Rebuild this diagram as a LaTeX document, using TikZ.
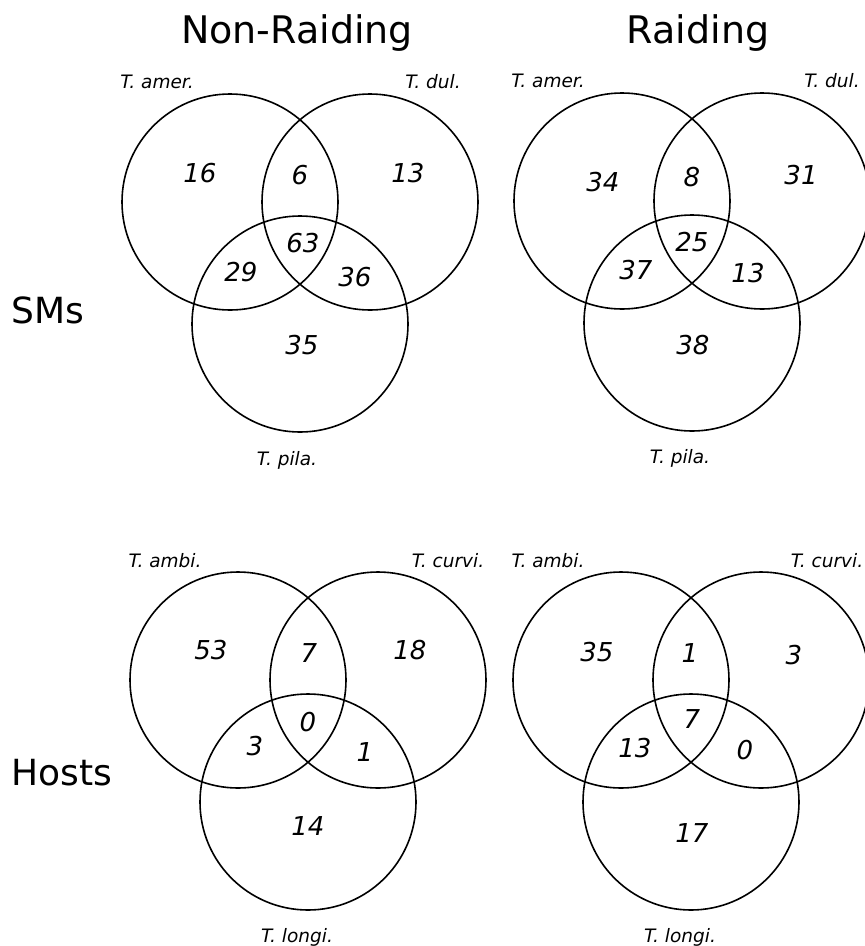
\documentclass[tikz,border=0pt]{standalone}
\usepackage{fontspec}
\setmainfont{DejaVu Sans}
\usepackage{tikz}

\tikzset{
  setline/.style={line width=1.6pt},
  cnt/.style={font=\fontsize{26}{28}\selectfont\itshape},
  spc/.style={anchor=base, font=\fontsize{18.5}{20}\selectfont\itshape},
  ttl/.style={anchor=base, font=\fontsize{38}{40}\selectfont},
  rowttl/.style={anchor=base, font=\fontsize{36}{38}\selectfont}
}

\begin{document}
\begin{tikzpicture}[x=1pt, y=-1pt]
		%%%%% START %%%%%
		\useasboundingbox (0, 0) rectangle (865, 946);
		
		\node[ttl] (ttlNon) at (297, 43) {Non-Raiding};
		\node[ttl] (ttlRaid) at (698, 43) {Raiding};
		\node[rowttl] (rowSMs) at (48, 323) {SMs};
		\node[rowttl] (rowHosts) at (62, 785) {Hosts};
		
		% SMs, non-raiding
		\draw[setline] (230, 202) circle (108pt);
		\draw[setline] (370, 202) circle (108pt);
		\draw[setline] (300, 324) circle (108pt);
		\node[spc] (smNamer) at (157, 88) {T. amer.};
		\node[spc] (smNdul) at (433, 88) {T. dul.};
		\node[spc] (smNpila) at (287, 465) {T. pila.};
		\node[cnt] (smN1) at (200, 173) {16};
		\node[cnt] (smN2) at (300, 175) {6};
		\node[cnt] (smN3) at (408, 173) {13};
		\node[cnt] (smN4) at (303, 243) {63};
		\node[cnt] (smN5) at (241, 272) {29};
		\node[cnt] (smN6) at (355, 277) {36};
		\node[cnt] (smN7) at (302, 345) {35};
		
		% SMs, raiding
		\draw[setline] (622, 201) circle (108pt);
		\draw[setline] (762, 201) circle (108pt);
		\draw[setline] (692, 323) circle (108pt);
		\node[spc] (smRamer) at (548, 87) {T. amer.};
		\node[spc] (smRdul) at (832, 87) {T. dul.};
		\node[spc] (smRpila) at (680, 463) {T. pila.};
		\node[cnt] (smR1) at (603, 182) {34};
		\node[cnt] (smR2) at (692, 177) {8};
		\node[cnt] (smR3) at (801, 175) {31};
		\node[cnt] (smR4) at (692, 242) {25};
		\node[cnt] (smR5) at (636, 270) {37};
		\node[cnt] (smR6) at (748, 273) {13};
		\node[cnt] (smR7) at (693, 345) {38};
		
		% Hosts, non-raiding
		\draw[setline] (238, 680) circle (108pt);
		\draw[setline] (378, 680) circle (108pt);
		\draw[setline] (308, 802) circle (108pt);
		\node[spc] (hoNambi) at (165, 567) {T. ambi.};
		\node[spc] (hoNcurvi) at (448, 567) {T. curvi.};
		\node[spc] (hoNlongi) at (297, 942) {T. longi.};
		\node[cnt] (hoN1) at (211, 650) {53};
		\node[cnt] (hoN2) at (309, 653) {7};
		\node[cnt] (hoN3) at (410, 650) {18};
		\node[cnt] (hoN4) at (308, 722) {0};
		\node[cnt] (hoN5) at (255, 746) {3};
		\node[cnt] (hoN6) at (365, 752) {1};
		\node[cnt] (hoN7) at (308, 826) {14};
		
		% Hosts, raiding
		\draw[setline] (621, 680) circle (108pt);
		\draw[setline] (761, 680) circle (108pt);
		\draw[setline] (691, 802) circle (108pt);
		\node[spc] (hoRambi) at (548, 567) {T. ambi.};
		\node[spc] (hoRcurvi) at (827, 567) {T. curvi.};
		\node[spc] (hoRlongi) at (680, 942) {T. longi.};
		\node[cnt] (hoR1) at (597, 652) {35};
		\node[cnt] (hoR2) at (690, 653) {1};
		\node[cnt] (hoR3) at (794, 655) {3};
		\node[cnt] (hoR4) at (692, 719) {7};
		\node[cnt] (hoR5) at (635, 748) {13};
		\node[cnt] (hoR6) at (745, 750) {0};
		\node[cnt] (hoR7) at (692, 833) {17};
		
		%%%%% END %%%%%
	\end{tikzpicture}
\end{document}
